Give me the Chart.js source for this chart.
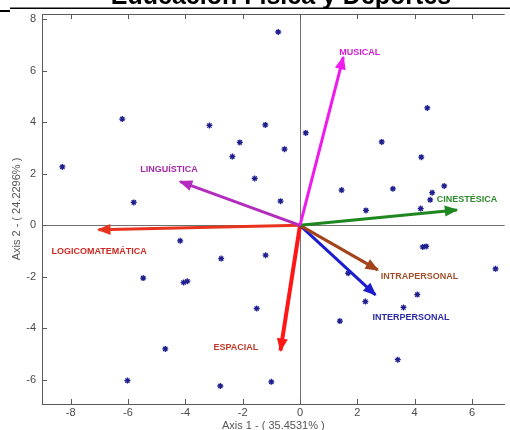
<!DOCTYPE html>
<html>
<head>
<meta charset="utf-8">
<script src="https://cdn.jsdelivr.net/npm/chart.js@4/dist/chart.umd.min.js"></script>
<style>
  html, body { margin: 0; padding: 0; background: #fff; }
  #wrap { width: 510px; height: 430px; }
</style>
</head>
<body>
<div id="wrap"><canvas id="biplot" width="510" height="430"></canvas></div>
<script>
// Individual scores on the first two factorial axes
const obsX = [-0.76, -6.20, -8.29, -3.16, -1.21, -2.10, -2.36, -0.54, -1.58, -0.68,
              -5.80, 0.20, -4.18, -2.75, -1.20, -5.47, -4.06, -3.93, -1.51, -4.70,
              -6.02, -2.78, -1.00, 3.41, 2.85, 4.23, 1.45, 3.24, 5.03, 4.61,
              4.54, 2.30, 4.21, 4.44, 4.28, 4.40, 6.82, 1.68, 4.09, 2.28,
              3.61, 1.39];
const obsY = [7.51, 4.13, 2.27, 3.88, 3.90, 3.22, 2.67, 2.96, 1.82, 0.94,
              0.89, 3.59, -0.60, -1.29, -1.16, -2.05, -2.22, -2.17, -3.23, -4.80,
              -6.03, -6.24, -6.08, -5.22, 3.24, 2.65, 1.37, 1.42, 1.53, 1.27,
              0.99, 0.58, 0.65, 4.56, -0.84, -0.82, -1.69, -1.86, -2.69, -2.96,
              -3.19, -3.72];

// Variable vectors (intelligence types)
const vectorNames = ['MUSICAL', 'LINGUÍSTICA', 'LOGICOMATEMÁTICA', 'CINESTÉSICA',
                     'INTRAPERSONAL', 'INTERPERSONAL', 'ESPACIAL'];
const vectorX = [1.51, -4.18, -7.03, 5.47, 2.71, 2.63, -0.68];
const vectorY = [6.53, 1.70, -0.17, 0.60, -1.73, -2.70, -4.86];

const xTickValues = [-8, -6, -4, -2, 0, 2, 4, 6];
const yTickValues = [-6, -4, -2, 0, 2, 4, 6, 8];

const titleText = 'Educación Física y Deportes';
const xAxisTitle = 'Axis 1 - ( 35.4531% )';
const yAxisTitle = 'Axis 2 - ( 24.2296% )';

// Styling for each vector: line colour, label colour, width, label offset (px from tip)
const vectorStyle = [
  { line: '#ee1aee', text: '#d21ed2', width: 3, dx: -4,  dy: -5 },
  { line: '#b32cbd', text: '#a52aa8', width: 3, dx: -40, dy: -12 },
  { line: '#e8341e', text: '#cc2a22', width: 3, dx: -47, dy: 22 },
  { line: '#1f871f', text: '#2e8a2e', width: 3, dx: -20, dy: -10 },
  { line: '#a3431b', text: '#a0502c', width: 3, dx: 3,   dy: 7 },
  { line: '#1c1ccf', text: '#2a2aa6', width: 3, dx: -3,  dy: 23 },
  { line: '#ff1616', text: '#c23a2a', width: 4, dx: -67, dy: -3 }
];

const FONT = '"Liberation Sans", Arial, sans-serif';
const AXIS_GRAY = '#5a5a5a';

const datasets = vectorNames.map((name, i) => ({
  label: name,
  type: 'line',
  data: [{ x: 0, y: 0 }, { x: vectorX[i], y: vectorY[i] }],
  borderColor: vectorStyle[i].line,
  borderWidth: vectorStyle[i].width,
  pointRadius: 0,
  fill: false,
  order: i
}));
datasets.push({
  label: 'obs',
  data: obsX.map((x, i) => ({ x: x, y: obsY[i] })),
  pointStyle: 'star',
  pointRadius: 3,
  pointBorderColor: '#1e1e8e',
  pointBackgroundColor: '#1e1e8e',
  pointBorderWidth: 1.3,
  showLine: false,
  order: 20
});

// Page frame: white background, clipped title and black rule lines
const framePlugin = {
  id: 'frame',
  beforeDraw(chart) {
    const ctx = chart.ctx;
    ctx.save();
    ctx.fillStyle = '#fff';
    ctx.fillRect(0, 0, chart.width, chart.height);
    ctx.fillStyle = '#000';
    ctx.font = 'bold 25px ' + FONT;
    ctx.textAlign = 'center';
    ctx.textBaseline = 'alphabetic';
    ctx.fillText(titleText, 281, 3.5);
    ctx.strokeStyle = '#000';
    ctx.lineWidth = 1.6;
    ctx.beginPath();
    ctx.moveTo(10, 8.2); ctx.lineTo(chart.width, 8.2);
    ctx.stroke();
    ctx.lineWidth = 2;
    ctx.beginPath();
    ctx.moveTo(0, 11); ctx.lineTo(10, 11);
    ctx.stroke();
    ctx.restore();
  },
  afterDraw(chart) {
    // Box top edge and inward tick marks
    const ctx = chart.ctx;
    const a = chart.chartArea;
    const xs = chart.scales.x, ys = chart.scales.y;
    ctx.save();
    ctx.strokeStyle = AXIS_GRAY;
    ctx.lineWidth = 1;
    ctx.beginPath();
    ctx.moveTo(a.left, a.top + 0.5); ctx.lineTo(a.right, a.top + 0.5);
    xs.ticks.forEach(t => {
      const px = Math.round(xs.getPixelForValue(t.value)) + 0.5;
      ctx.moveTo(px, a.bottom); ctx.lineTo(px, a.bottom - 5);
      ctx.moveTo(px, a.top); ctx.lineTo(px, a.top + 5);
    });
    ys.ticks.forEach(t => {
      const py = Math.round(ys.getPixelForValue(t.value)) + 0.5;
      ctx.moveTo(a.left, py); ctx.lineTo(a.left + 5, py);
    });
    ctx.stroke();
    ctx.restore();
  }
};

// Arrowheads and variable names at the vector tips
const arrowPlugin = {
  id: 'arrows',
  afterDatasetsDraw(chart) {
    const ctx = chart.ctx;
    const xs = chart.scales.x, ys = chart.scales.y;
    const ox = xs.getPixelForValue(0), oy = ys.getPixelForValue(0);
    ctx.save();
    vectorNames.forEach((name, i) => {
      const tx = xs.getPixelForValue(vectorX[i]);
      const ty = ys.getPixelForValue(vectorY[i]);
      const ang = Math.atan2(ty - oy, tx - ox);
      const len = 12, half = 5.5;
      const bx = tx - len * Math.cos(ang), by = ty - len * Math.sin(ang);
      ctx.fillStyle = vectorStyle[i].line;
      ctx.beginPath();
      ctx.moveTo(tx + 1.5 * Math.cos(ang), ty + 1.5 * Math.sin(ang));
      ctx.lineTo(bx + half * Math.sin(ang), by - half * Math.cos(ang));
      ctx.lineTo(bx - half * Math.sin(ang), by + half * Math.cos(ang));
      ctx.closePath();
      ctx.fill();
      ctx.font = 'bold 9px ' + FONT;
      ctx.textAlign = 'left';
      ctx.textBaseline = 'middle';
      ctx.fillStyle = vectorStyle[i].text;
      ctx.fillText(name, tx + vectorStyle[i].dx, ty + vectorStyle[i].dy);
    });
    ctx.restore();
  }
};

const zeroLine = ctx => (ctx.tick && ctx.tick.value === 0) ? '#707070' : 'rgba(0,0,0,0)';

new Chart(document.getElementById('biplot'), {
  type: 'scatter',
  data: { datasets: datasets },
  options: {
    responsive: false,
    animation: false,
    devicePixelRatio: 1,
    layout: { padding: { top: 14, right: 0, left: 0, bottom: 0 } },
    plugins: {
      legend: { display: false },
      tooltip: { enabled: false },
      title: { display: false }
    },
    scales: {
      x: {
        type: 'linear',
        position: 'bottom',
        min: -9,
        max: 7.14,
        afterBuildTicks: s => { s.ticks = xTickValues.map(v => ({ value: v })); },
        afterFit: s => { s.height = 26; },
        grid: { drawTicks: false, color: zeroLine, lineWidth: 1 },
        border: { display: true, color: AXIS_GRAY, width: 1 },
        ticks: { color: '#4a4a4a', padding: 2, font: { family: FONT, size: 11 } },
        title: {
          display: true, text: xAxisTitle, color: '#555',
          font: { family: FONT, size: 11, lineHeight: 0.8 }, padding: 0
        }
      },
      y: {
        type: 'linear',
        position: 'left',
        min: -6.94,
        max: 8.21,
        afterBuildTicks: s => { s.ticks = yTickValues.map(v => ({ value: v })); },
        afterFit: s => { s.width = 42; },
        grid: { drawTicks: false, color: zeroLine, lineWidth: 1 },
        border: { display: true, color: AXIS_GRAY, width: 1 },
        ticks: { color: '#4a4a4a', padding: 6, font: { family: FONT, size: 11 } },
        title: {
          display: true, text: yAxisTitle, color: '#555',
          font: { family: FONT, size: 11, lineHeight: 1.2 }, padding: { top: 10, bottom: 0 }
        }
      }
    }
  },
  plugins: [framePlugin, arrowPlugin]
});
</script>
</body>
</html>
